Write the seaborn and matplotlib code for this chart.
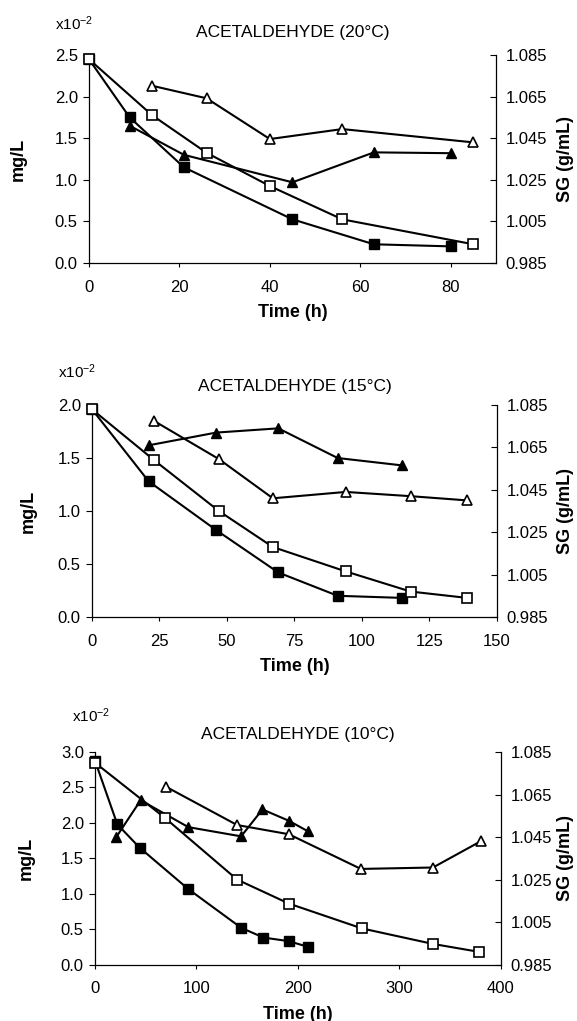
import matplotlib
matplotlib.use("Agg")
import matplotlib.pyplot as plt
import seaborn as sns
import numpy as np

# ---- 20 °C ----
t_sg_fill_20 = [0, 9, 21, 45, 63, 80]
sg_fill_20 = [1.083, 1.055, 1.031, 1.006, 0.994, 0.993]
t_sg_open_20 = [0, 14, 26, 40, 56, 85]
sg_open_20 = [1.083, 1.056, 1.038, 1.022, 1.006, 0.994]
t_ac_fill_20 = [9, 21, 45, 63, 80]
ac_fill_20 = [1.65, 1.30, 0.97, 1.33, 1.32]
t_ac_open_20 = [14, 26, 40, 56, 85]
ac_open_20 = [2.13, 1.98, 1.49, 1.61, 1.45]

# ---- 15 °C ----
t_sg_fill_15 = [0, 21, 46, 69, 91, 115]
sg_fill_15 = [1.083, 1.049, 1.026, 1.006, 0.995, 0.994]
t_sg_open_15 = [0, 23, 47, 67, 94, 118, 139]
sg_open_15 = [1.083, 1.059, 1.035, 1.018, 1.0065, 0.997, 0.994]
t_ac_fill_15 = [21, 46, 69, 91, 115]
ac_fill_15 = [1.62, 1.74, 1.78, 1.50, 1.43]
t_ac_open_15 = [23, 47, 67, 94, 118, 139]
ac_open_15 = [1.85, 1.49, 1.12, 1.18, 1.14, 1.10]

# ---- 10 °C ----
t_sg_fill_10 = [0, 22, 44, 92, 144, 166, 191, 210]
sg_fill_10 = [1.081, 1.051, 1.040, 1.0205, 1.0023, 0.9977, 0.996, 0.9933]
t_sg_open_10 = [0, 69, 140, 191, 263, 333, 378]
sg_open_10 = [1.080, 1.054, 1.025, 1.0137, 1.002, 0.9947, 0.991]
t_ac_fill_10 = [21, 45, 92, 144, 165, 191, 210]
ac_fill_10 = [1.80, 2.32, 1.94, 1.81, 2.19, 2.03, 1.88]
t_ac_open_10 = [70, 140, 191, 262, 333, 380]
ac_open_10 = [2.51, 1.97, 1.84, 1.35, 1.37, 1.74]

titles = ["ACETALDEHYDE (20°C)", "ACETALDEHYDE (15°C)", "ACETALDEHYDE (10°C)"]
x_limits = [(0, 90), (0, 150), (0, 400)]
x_ticks = [[0, 20, 40, 60, 80], [0, 25, 50, 75, 100, 125, 150], [0, 100, 200, 300, 400]]
y_tops = [2.5, 2.0, 3.0]
sg_ticks = [0.985, 1.005, 1.025, 1.045, 1.065, 1.085]

panels = [
    (t_sg_fill_20, sg_fill_20, t_sg_open_20, sg_open_20,
     t_ac_fill_20, ac_fill_20, t_ac_open_20, ac_open_20),
    (t_sg_fill_15, sg_fill_15, t_sg_open_15, sg_open_15,
     t_ac_fill_15, ac_fill_15, t_ac_open_15, ac_open_15),
    (t_sg_fill_10, sg_fill_10, t_sg_open_10, sg_open_10,
     t_ac_fill_10, ac_fill_10, t_ac_open_10, ac_open_10),
]

sns.set_theme(style="ticks")
plt.rcParams["font.family"] = ["Liberation Sans", "DejaVu Sans"]
plt.rcParams["mathtext.default"] = "regular"
for key in ("text.color", "axes.labelcolor", "xtick.color", "ytick.color",
            "axes.edgecolor"):
    plt.rcParams[key] = "black"

fig = plt.figure(figsize=(5.77, 10.21), dpi=100)

# axes rectangles in figure fractions
rects = [
    [0.1542, 0.7424, 0.7054, 0.2037],
    [0.1594, 0.3957, 0.7019, 0.2076],
    [0.1646, 0.0553, 0.7036, 0.2081],
]
ylabel_x = [-0.152, -0.137, -0.149]
sg_label_x = [1.151, 1.149, 1.139]
exp_pos = [(0.095, 0.977), (0.100, 0.636), (0.125, 0.2995)]
title_y = [1.0 - 33 / 1021, 1.0 - 386 / 1021, 1.0 - 734 / 1021]

LW = 1.5
for i, (rect, data) in enumerate(zip(rects, panels)):
    tfs, sfs, tos, sos, tfa, afa, toa, aoa = data
    ax = fig.add_axes(rect)
    ax2 = ax.twinx()

    # acetaldehyde (left axis, triangles)
    sns.lineplot(x=tfa, y=afa, ax=ax, color="black", linewidth=LW,
                 marker="^", markersize=7, markerfacecolor="black",
                 markeredgecolor="black", markeredgewidth=1.0, clip_on=False)
    sns.lineplot(x=toa, y=aoa, ax=ax, color="black", linewidth=LW,
                 marker="^", markersize=7.5, markerfacecolor="white",
                 markeredgecolor="black", markeredgewidth=1.2, clip_on=False)

    # specific gravity (right axis, squares)
    sns.lineplot(x=tfs, y=sfs, ax=ax2, color="black", linewidth=LW,
                 marker="s", markersize=6.5, markerfacecolor="black",
                 markeredgecolor="black", markeredgewidth=1.0, clip_on=False)
    sns.lineplot(x=tos, y=sos, ax=ax2, color="black", linewidth=LW,
                 marker="s", markersize=7, markerfacecolor="white",
                 markeredgecolor="black", markeredgewidth=1.2, clip_on=False)

    ax.set_xlim(*x_limits[i])
    ax.set_xticks(x_ticks[i])
    ax.set_xticklabels([str(v) for v in x_ticks[i]])
    ax.set_ylim(0, y_tops[i])
    yt = np.arange(0, y_tops[i] + 0.01, 0.5)
    ax.set_yticks(yt)
    ax.set_yticklabels([f"{v:.1f}" for v in yt])
    ax2.set_ylim(0.985, 1.085)
    ax2.set_yticks(sg_ticks)
    ax2.set_yticklabels([f"{v:.3f}" for v in sg_ticks])

    for a in (ax, ax2):
        a.spines["top"].set_visible(False)
        a.set_facecolor("none")
        for s in a.spines.values():
            s.set_linewidth(0.9)
            s.set_color("black")
    ax.spines["right"].set_visible(False)
    ax2.spines["left"].set_visible(False)
    ax2.spines["bottom"].set_visible(False)

    ax.tick_params(axis="y", direction="out", length=4, width=0.8,
                   pad=4, labelsize=12, colors="black")
    ax.tick_params(axis="x", direction="out", length=3, width=0.8,
                   pad=9, labelsize=12, colors="black")
    ax2.tick_params(axis="y", direction="in", length=4, width=0.8,
                    pad=7, labelsize=12, colors="black")

    ax.set_xlabel("Time (h)", fontsize=13, fontweight="bold", labelpad=7)
    ax.set_ylabel("mg/L", fontsize=13, fontweight="bold")
    ax.yaxis.set_label_coords(ylabel_x[i], 0.5)
    ax2.set_ylabel("SG (g/mL)", fontsize=13, fontweight="bold",
                   rotation=90)
    ax2.yaxis.set_label_coords(sg_label_x[i], 0.5)

    cx = rect[0] + rect[2] / 2
    fig.text(cx, title_y[i], titles[i], ha="center", va="center",
             fontsize=12.5)
    fig.text(exp_pos[i][0], exp_pos[i][1], "x10$^{-2}$", ha="left",
             va="center", fontsize=11)

fig.savefig("out.png", dpi=100, facecolor="white")
